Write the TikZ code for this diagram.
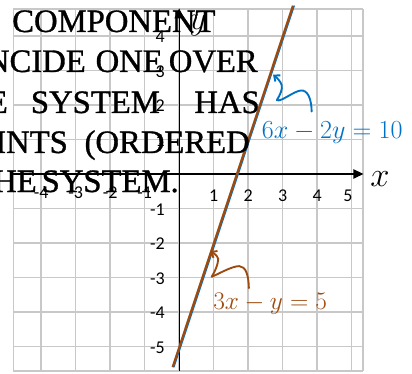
\documentclass[tikz,border=0pt]{standalone}
\usepackage[no-math]{fontspec}
\setmainfont{Liberation Serif}
\newfontfamily\pagefont[FakeBold=1.0]{Liberation Serif}
\newfontfamily\tickfont{Carlito}
\usetikzlibrary{arrows.meta}
\definecolor{eqbrown}{RGB}{155,74,16}
\definecolor{eqblue}{RGB}{0,114,198}
\definecolor{gridgray}{RGB}{200,200,200}
\begin{document}
\begin{tikzpicture}[x=25.875pt,y=25.875pt,
  gridline/.style={draw=gridgray,line width=1.1pt},
  axisline/.style={draw=black,line width=0.9pt,-{Triangle[length=7.5pt,width=7pt]}},
  ticklbl/.style={font=\tickfont\fontsize{13.5}{14}\selectfont,inner sep=0pt},
  pagetext/.style={font=\pagefont\fontsize{24.5}{28}\selectfont,inner sep=0pt},
  eqlbl/.style={font=\LARGE,inner sep=0pt,anchor=base west},
  squiggle/.style={line width=1.4pt,line cap=round,line join=round,-{Straight Barb[length=3.5pt,width=6pt]}},
  axlbl/.style={font=\huge,inner sep=0pt}]
\useasboundingbox (-5.194,-5.797) rectangle (6.748,5.043);
\clip (-5.194,-5.797) rectangle (6.748,5.043);
\fill[white] (-5.194,-5.797) rectangle (6.748,5.043);
% grid
\foreach \k in {-4,...,5} \draw[gridline] (\k,-5.71) -- (\k,4.78);
\draw[gridline] (-4.81,-5.71) -- (-4.81,4.78);
\draw[gridline] (5.33,-5.71) -- (5.33,4.78);
\foreach \k in {-5,...,4} \draw[gridline] (-4.81,\k) -- (5.33,\k);
\draw[gridline] (-4.81,4.78) -- (5.33,4.78);
\draw[gridline] (-4.81,-5.71) -- (5.33,-5.71);
% axes
\coordinate (xs) at (-4.81,0);
\coordinate (xe) at (5.34,0);
\coordinate (ys) at (0,-5.71);
\coordinate (ye) at (0,4.80);
\draw[axisline] (xs) -- (xe);
\draw[axisline] (ys) -- (ye);
\node[axlbl] (xl) at (5.82,-0.15) {\scalebox{1.25}{$x$}};
\node[axlbl] (yl) at (0.54,4.30) {\scalebox{1.2}{$y$}};
% tick labels
\foreach \k in {1,2,3,4} \node[ticklbl,anchor=base] (tx\k) at (\k,-0.80) {\k};
\node[ticklbl,anchor=base] (tx5) at (4.89,-0.80) {5};
\foreach \k in {1,2,3,4} \node[ticklbl,anchor=base] (txm\k) at (-\k,-0.72) {-\k};
\foreach \k in {1,2,3,4} \node[ticklbl,anchor=base east] (ty\k) at (-0.41,\k-0.2) {\k};
\foreach \k in {1,...,5} \node[ticklbl,anchor=base east] (tym\k) at (-0.41,-\k-0.2) {-\k};
% the two coincident lines
\coordinate (B1) at (-0.15,-5.60);
\coordinate (B2) at (3.34,4.88);
\coordinate (R1) at (-0.19,-5.60);
\coordinate (R2) at (3.30,4.88);
\draw[eqblue,line width=0.8pt] (B1) -- (B2);
\draw[eqbrown,line width=1.7pt] (R1) -- (R2);
% blue squiggle
\coordinate (bs) at (3.84,1.81);
\coordinate (bt) at (2.72,2.88);
\draw[squiggle,eqblue] (bs) .. controls (3.83,2.2) and (3.72,2.44) .. (3.52,2.42)
  .. controls (3.3,2.39) and (2.95,2.08) .. (2.83,2.14)
  .. controls (2.93,2.3) and (3.0,2.46) .. (2.97,2.58)
  .. controls (2.93,2.7) and (2.82,2.8) .. (bt);
\node[eqlbl,text=eqblue] (eqb) at (2.39,1.03) {\scalebox{1.13}{$6x-2y=10$}};
% brown squiggle
\coordinate (rs) at (2.02,-3.31);
\coordinate (rt) at (0.90,-2.24);
\draw[squiggle,eqbrown] (rs) .. controls (2.01,-2.92) and (1.93,-2.68) .. (1.74,-2.67)
  .. controls (1.52,-2.67) and (1.1,-2.92) .. (0.94,-2.98)
  .. controls (1.04,-2.82) and (1.13,-2.62) .. (1.13,-2.46)
  .. controls (1.1,-2.35) and (1.0,-2.3) .. (rt);
\node[eqlbl,text=eqbrown] (eqr) at (0.98,-3.94) {\scalebox{1.1}{$3x-y=5$}};
% page text showing through
\node[pagetext,anchor=base west] (w1) at (-4.846,4.116) {COMPONENT};
\node[pagetext,anchor=base east] (w2) at (-2.70,2.957) {NCIDE};
\node[pagetext,anchor=base west] (w3) at (-2.43,2.957) {ONE};
\node[pagetext,anchor=base east] (w4) at (2.284,2.957) {OVER};
\node[pagetext,anchor=base east] (w5) at (-4.96,1.768) {E};
\node[pagetext,anchor=base west] (w6) at (-4.305,1.768) {SYSTEM};
\node[pagetext,anchor=base east] (w7) at (2.342,1.768) {HAS};
\node[pagetext,anchor=base west] (w8) at (-5.339,0.609) {INTS};
\node[pagetext,anchor=base east] (w9) at (2.052,0.609) {(ORDERED};
\node[pagetext,anchor=base east] (w10) at (-4.122,-0.522) {HE};
\node[pagetext,anchor=base east] (w11) at (-0.006,-0.522) {SYSTEM.};
\end{tikzpicture}
\end{document}
